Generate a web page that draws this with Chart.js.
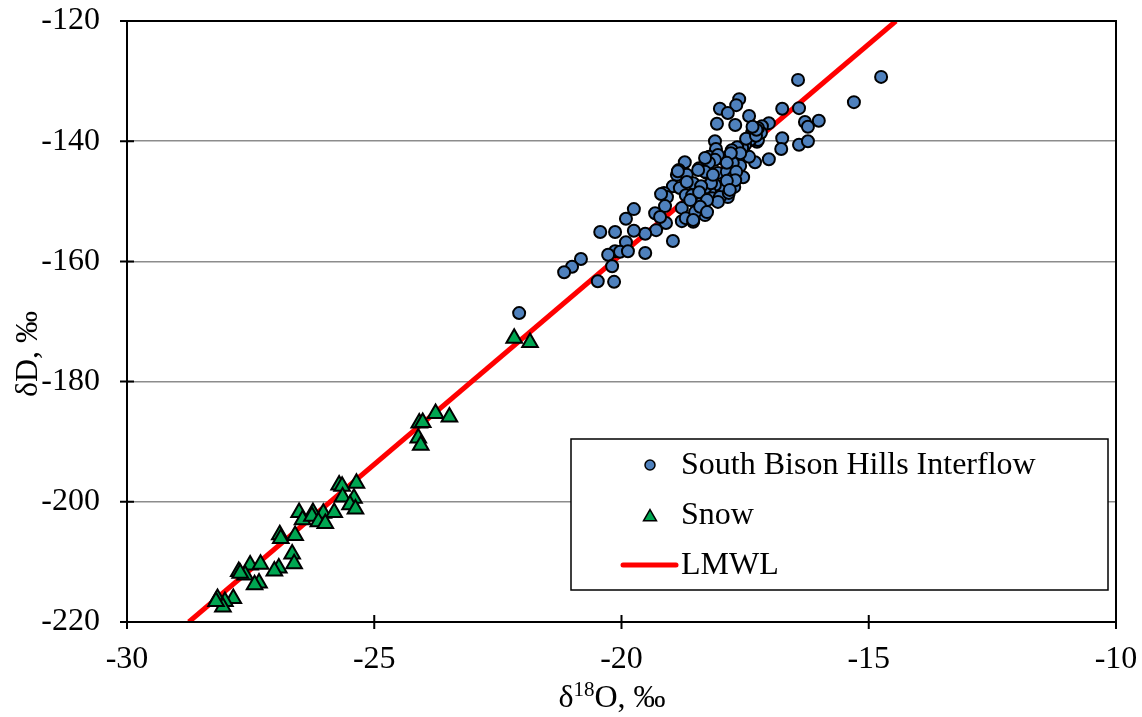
<!DOCTYPE html>
<html>
<head>
<meta charset="utf-8">
<script src="https://cdn.jsdelivr.net/npm/chart.js@4.4.1/dist/chart.umd.min.js"></script>
<style>
  html, body { margin: 0; padding: 0; background: #fff; }
  #wrap { width: 1142px; height: 717px; }
</style>
</head>
<body>
<div id="wrap"><canvas id="isoChart" width="1142" height="717"></canvas></div>
<script>
// South Bison Hills interflow samples (d18O, dD in permil)
const interflowO = [
  -14.75, -16.43, -15.30, -17.62, -17.68, -18.01, -17.85, -17.42, -16.75, -16.41,
  -18.07, -17.70, -16.29, -16.01, -16.23, -17.02, -17.16, -16.75, -16.77, -16.41,
  -16.23, -17.02, -17.30, -18.11, -18.09, -18.23, -18.72, -17.42, -17.60, -17.54,
  -17.72, -17.85, -17.54, -17.26, -17.36, -17.93, -17.77, -18.43, -18.84, -18.88,
  -18.68, -18.27, -18.96, -18.82, -19.14, -19.08, -18.70, -19.12, -18.78, -19.32,
  -19.10, -19.22, -18.78, -18.70, -18.55, -19.30, -19.52, -19.75, -20.13, -20.43,
  -19.75, -19.91, -19.91, -20.13, -20.27, -20.03, -19.87, -19.52, -18.96, -20.19,
  -20.48, -20.15, -20.82, -21.00, -21.16, -22.07, -17.34, -17.24, -17.40, -17.50,
  -17.56, -17.66, -17.77, -17.60, -17.75, -18.05, -18.11, -18.23, -18.31, -18.31,
  -18.05, -17.87, -17.75, -17.85, -17.95, -18.11, -18.21, -18.31, -18.41, -18.17,
  -18.01, -17.83, -18.47, -18.37, -18.31, -18.51, -18.57, -18.55, -17.18, -17.24,
  -17.48, -17.28, -17.79, -17.87, -17.68, -17.70, -17.87, -17.81, -18.05, -18.19,
  -18.39, -18.43, -18.27, -18.41, -18.27, -18.55, -18.61, -18.86, -18.45, -18.68,
  -18.15, -19.20, -17.27, -17.35
];
const interflowD = [
  -129.3, -129.8, -133.5, -133.0, -134.0, -134.6, -135.3, -135.8, -134.6, -134.5,
  -137.1, -137.3, -136.8, -136.6, -137.6, -137.0, -137.5, -139.5, -141.3, -140.6,
  -140.0, -143.0, -143.5, -140.0, -141.3, -142.6, -143.5, -142.6, -144.1, -146.0,
  -147.6, -149.3, -141.0, -140.1, -138.6, -143.0, -142.8, -144.5, -144.8, -145.6,
  -145.6, -145.3, -147.5, -147.8, -148.6, -149.3, -149.0, -150.8, -151.1, -152.0,
  -153.6, -152.6, -153.3, -152.8, -153.4, -154.8, -155.4, -154.9, -155.1, -155.1,
  -151.3, -152.9, -156.8, -158.3, -158.9, -158.4, -158.3, -158.6, -156.6, -160.8,
  -163.3, -163.4, -159.6, -160.9, -161.8, -168.6, -139.0, -139.8, -139.8, -140.6,
  -141.1, -141.0, -141.5, -142.0, -143.6, -142.3, -143.1, -143.6, -142.8, -145.1,
  -145.3, -145.1, -146.1, -147.0, -147.8, -147.3, -148.5, -147.8, -149.0, -149.5,
  -149.3, -148.6, -150.1, -151.1, -152.3, -151.8, -149.0, -147.0, -138.6, -137.8,
  -139.6, -139.1, -142.0, -143.6, -145.1, -146.5, -146.6, -148.1, -150.1, -147.0,
  -147.5, -148.5, -149.8, -150.9, -151.8, -153.1, -149.8, -145.0, -144.8, -146.8,
  -145.6, -148.8, -138.1, -137.6
];

// Snow samples
const snowO = [
  -22.17, -21.85, -23.76, -23.48, -24.09, -24.02, -24.11, -24.06, -25.36, -25.71,
  -25.65, -25.64, -25.41, -25.49, -25.38, -26.52, -26.24, -26.03, -25.81, -26.45,
  -26.26, -26.13, -25.99, -26.91, -26.60, -26.89, -26.66, -26.62, -26.93, -27.02,
  -27.51, -27.30, -27.74, -27.61, -27.71, -27.33, -27.42, -28.17, -27.85, -28.02,
  -28.06, -28.20
];
const snowD = [
  -172.8, -173.5, -185.3, -185.9, -186.9, -186.8, -189.4, -190.6, -196.9, -197.2,
  -197.4, -199.2, -199.4, -200.5, -201.2, -201.8, -201.8, -201.9, -201.8, -203.0,
  -202.4, -203.3, -203.6, -205.5, -205.6, -206.1, -208.7, -210.3, -211.0, -211.5,
  -210.5, -210.4, -211.6, -212.2, -211.9, -213.5, -213.8, -216.1, -216.1, -216.6,
  -217.5, -216.6
];

// Local meteoric water line end points
const lmwlO = [-28.75, -14.45];
const lmwlD = [-220, -120];

const xTicks = [-30, -25, -20, -15, -10];
const yTicks = [-220, -200, -180, -160, -140, -120];

const SERIF = "'Liberation Serif', 'Times New Roman', serif";
const toPoints = (xs, ys) => xs.map((x, i) => ({ x, y: ys[i] }));

const legendItems = [
  { label: 'South Bison Hills Interflow', kind: 'circle', fill: '#4f81bd' },
  { label: 'Snow', kind: 'triangle', fill: '#00a651' },
  { label: 'LMWL', kind: 'line', fill: '#ff0000' }
];

function marker(ctx, kind, x, y, r) {
  ctx.beginPath();
  if (kind === 'circle') {
    ctx.arc(x, y, r, 0, Math.PI * 2);
  } else {
    ctx.moveTo(x, y - r);
    ctx.lineTo(x + r * Math.sin(Math.PI * 2 / 3), y + r / 2);
    ctx.lineTo(x - r * Math.sin(Math.PI * 2 / 3), y + r / 2);
    ctx.closePath();
  }
  ctx.fill();
  ctx.stroke();
}

// no automatic label padding, the layout padding places the plot area
function noPad(s) {
  s.paddingTop = 0;
  s.paddingBottom = 0;
  s.paddingLeft = 0;
  s.paddingRight = 0;
}

// frame, cross ticks, axis titles and legend box
const decorations = {
  id: 'decorations',
  afterDraw(chart) {
    const { ctx, chartArea: a, scales } = chart;
    ctx.save();
    ctx.strokeStyle = '#000';
    ctx.lineWidth = 2;
    ctx.strokeRect(a.left, a.top, a.right - a.left, a.bottom - a.top);

    ctx.beginPath();
    xTicks.forEach(v => {
      const px = scales.x.getPixelForValue(v);
      ctx.moveTo(px, a.bottom - 7);
      ctx.lineTo(px, a.bottom + 7);
    });
    yTicks.forEach(v => {
      const py = scales.y.getPixelForValue(v);
      ctx.moveTo(a.left - 7, py);
      ctx.lineTo(a.left + 7, py);
    });
    ctx.stroke();

    // x title with superscript 18
    ctx.fillStyle = '#000';
    ctx.textBaseline = 'alphabetic';
    ctx.textAlign = 'left';
    const big = '32px ' + SERIF, small = '21px ' + SERIF;
    ctx.font = big;
    const w1 = ctx.measureText('\u03b4').width;
    const w3 = ctx.measureText('O, \u2030').width;
    ctx.font = small;
    const w2 = ctx.measureText('18').width;
    let tx = 612 - (w1 + w2 + w3) / 2;
    const ty = 707;
    ctx.font = big;
    ctx.fillText('\u03b4', tx, ty);
    tx += w1;
    ctx.font = small;
    ctx.fillText('18', tx, ty - 11);
    tx += w2;
    ctx.font = big;
    ctx.fillText('O, \u2030', tx, ty);

    // y title
    ctx.save();
    ctx.translate(37, 354);
    ctx.rotate(-Math.PI / 2);
    ctx.textAlign = 'center';
    ctx.fillText('\u03b4D, \u2030', 0, 0);
    ctx.restore();

    // legend
    const lx = a.right - 545, ly = a.bottom - 183, lw = 537, lh = 151;
    ctx.fillStyle = '#fff';
    ctx.fillRect(lx, ly, lw, lh);
    ctx.lineWidth = 1.5;
    ctx.strokeRect(lx, ly, lw, lh);
    legendItems.forEach((item, i) => {
      const cy = ly + 26 + i * 50;
      if (item.kind === 'line') {
        ctx.strokeStyle = item.fill;
        ctx.lineWidth = 5;
        ctx.lineCap = 'round';
        ctx.beginPath();
        ctx.moveTo(lx + 52, cy);
        ctx.lineTo(lx + 105, cy);
        ctx.stroke();
      } else {
        ctx.fillStyle = item.fill;
        ctx.strokeStyle = '#000';
        ctx.lineWidth = 1.5;
        marker(ctx, item.kind, lx + 79, cy + (item.kind === 'triangle' ? 2 : 0), item.kind === 'triangle' ? 7.5 : 5);
      }
      ctx.fillStyle = '#000';
      ctx.font = big;
      ctx.textAlign = 'left';
      ctx.textBaseline = 'middle';
      ctx.fillText(item.label, lx + 110, cy + 1);
    });
    ctx.restore();
  }
};

Chart.defaults.font.family = SERIF;
Chart.defaults.font.size = 32;
Chart.defaults.color = '#000';

new Chart(document.getElementById('isoChart'), {
  type: 'scatter',
  data: {
    datasets: [
      {
        label: 'South Bison Hills Interflow',
        data: toPoints(interflowO, interflowD),
        pointStyle: 'circle',
        pointRadius: 6,
        pointBackgroundColor: '#4f81bd',
        pointBorderColor: '#000',
        pointBorderWidth: 2
      },
      {
        label: 'Snow',
        data: toPoints(snowO, snowD),
        pointStyle: 'triangle',
        pointRadius: 9,
        pointBackgroundColor: '#00a651',
        pointBorderColor: '#000',
        pointBorderWidth: 2
      },
      {
        label: 'LMWL',
        data: toPoints(lmwlO, lmwlD),
        showLine: true,
        borderColor: '#ff0000',
        borderWidth: 5,
        pointRadius: 0
      }
    ]
  },
  options: {
    responsive: false,
    animation: false,
    events: [],
    layout: { padding: { top: 21, right: 26, left: 0, bottom: 0 } },
    plugins: {
      legend: { display: false },
      tooltip: { enabled: false }
    },
    scales: {
      x: {
        type: 'linear',
        min: -30,
        max: -10,
        afterFit: s => { s.height = 95; noPad(s); },
        afterBuildTicks: s => { s.ticks = xTicks.map(v => ({ value: v })); },
        ticks: { padding: 18, callback: v => v },
        grid: { display: false, drawTicks: false },
        border: { display: false }
      },
      y: {
        type: 'linear',
        min: -220,
        max: -120,
        afterFit: s => { s.width = 127; noPad(s); },
        afterBuildTicks: s => { s.ticks = yTicks.map(v => ({ value: v })); },
        ticks: { padding: 27, callback: v => v },
        grid: {
          drawTicks: false,
          lineWidth: 1.5,
          color: c => (c.tick && (c.tick.value === -220 || c.tick.value === -120)) ? 'rgba(0,0,0,0)' : '#8c8c8c'
        },
        border: { display: false }
      }
    }
  },
  plugins: [decorations]
});
</script>
</body>
</html>
